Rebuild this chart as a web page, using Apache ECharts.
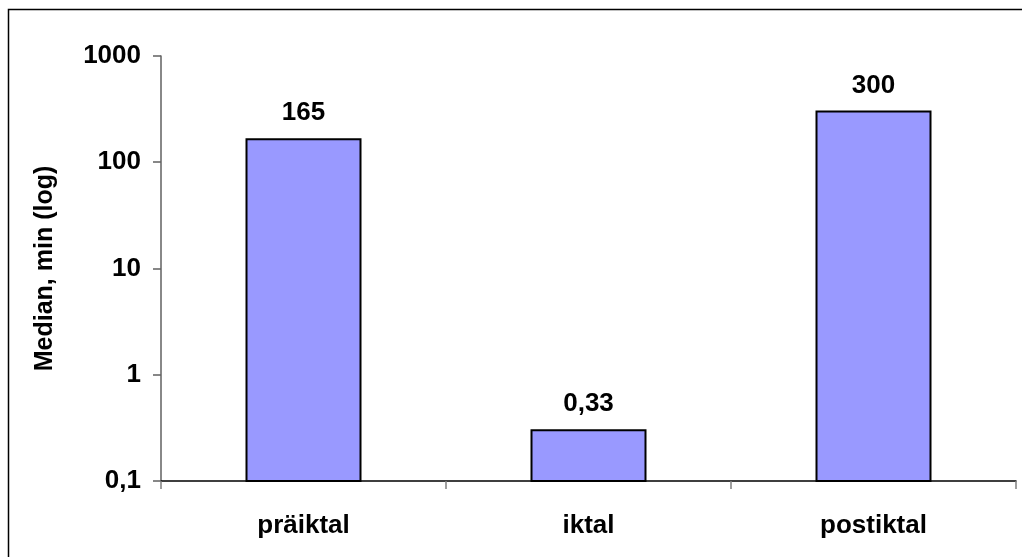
<!DOCTYPE html>
<html>
<head>
<meta charset="utf-8">
<script src="https://cdn.jsdelivr.net/npm/echarts@6/dist/echarts.min.js"></script>
<style>
html,body{margin:0;padding:0;background:#fff;}
#c{width:1022px;height:557px;}
</style>
</head>
<body>
<div id="c"></div>
<script>
var categories = ['präiktal', 'iktal', 'postiktal'];
var values = [165, 0.3, 300];
var valueLabels = ['165', '0,33', '300'];
var yTicks = [0.1, 1, 10, 100, 1000];
var yTickLabels = ['0,1', '1', '10', '100', '1000'];
var yTitle = 'Median, min (log)';
var yMin = 0.1;

var chart = echarts.init(document.getElementById('c'), null, {renderer: 'canvas'});
var font = 'Liberation Sans, Arial, sans-serif';
chart.setOption({
  animation: false,
  backgroundColor: '#fff',
  graphic: [{
    type: 'rect',
    shape: {x: 8.5, y: 9.5, width: 1200, height: 700},
    style: {fill: 'none', stroke: '#000', lineWidth: 1.5},
    silent: true
  }],
  grid: {left: 161, top: 56, right: 6, bottom: 76, containLabel: false},
  xAxis: {
    type: 'category',
    data: categories,
    boundaryGap: true,
    axisLine: {lineStyle: {color: '#000', width: 1.5}},
    axisTick: {show: true, length: 8, lineStyle: {color: '#808080', width: 1.5}},
    axisLabel: {margin: 32, fontFamily: font, fontWeight: 'bold', fontSize: 26, color: '#000'}
  },
  yAxis: {
    type: 'log',
    logBase: 10,
    min: yMin,
    max: 1000,
    name: yTitle,
    nameLocation: 'middle',
    nameGap: 103,
    nameRotate: 90,
    nameTextStyle: {fontFamily: font, fontWeight: 'bold', fontSize: 25, color: '#000'},
    splitLine: {show: false},
    axisLine: {show: true, lineStyle: {color: '#606060', width: 1.5}},
    axisTick: {show: true, length: 8, lineStyle: {color: '#606060', width: 1.5}},
    axisLabel: {
      margin: 20,
      fontFamily: font, fontWeight: 'bold', fontSize: 26, color: '#000',
      formatter: function (v) {
        for (var i = 0; i < yTicks.length; i++) {
          if (Math.abs(Math.log10(v) - Math.log10(yTicks[i])) < 1e-6) return yTickLabels[i];
        }
        return '';
      }
    }
  },
  series: [{
    type: 'custom',
    data: values.map(function (v, i) { return [i, v]; }),
    encode: {x: 0, y: 1},
    renderItem: function (params, api) {
      var idx = api.value(0);
      var val = api.value(1);
      var top = api.coord([idx, val]);
      var base = api.coord([idx, yMin]);
      var w = api.size([1, 0])[0] * 0.4;
      return {
        type: 'group',
        children: [{
          type: 'rect',
          shape: {x: top[0] - w / 2, y: top[1], width: w, height: base[1] - top[1]},
          style: {fill: '#9999FF', stroke: '#000', lineWidth: 2}
        }, {
          type: 'text',
          style: {
            text: valueLabels[params.dataIndex],
            x: top[0], y: top[1] - 13,
            textAlign: 'center', textVerticalAlign: 'bottom',
            font: 'bold 26px ' + font, fill: '#000'
          }
        }]
      };
    }
  }]
});
</script>
</body>
</html>
